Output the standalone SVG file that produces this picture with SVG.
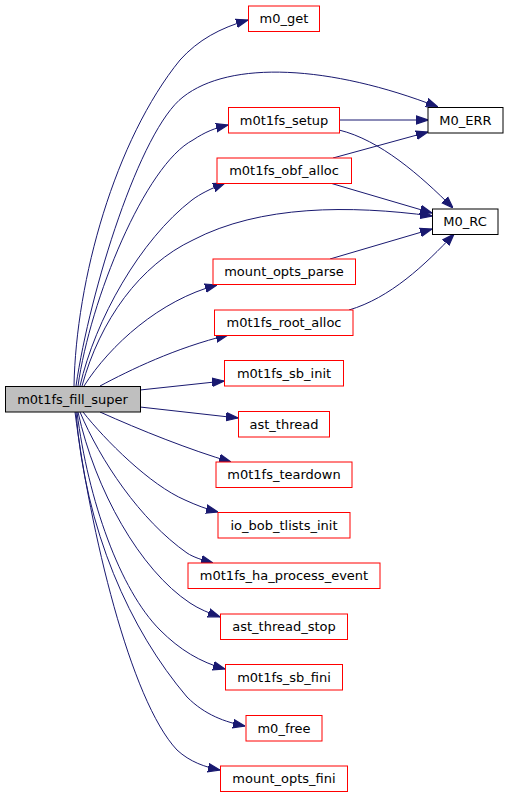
<svg xmlns="http://www.w3.org/2000/svg" width="508" height="797" viewBox="0 0 508 797">
<style>
.n rect{fill:#ffffff;stroke:#ff0000;stroke-width:1}
.n.b rect{stroke:#000000}
.n.root rect{fill:#bfbfbf;stroke:#000000}
.n text{font-family:"DejaVu Sans",sans-serif;font-size:13px;text-anchor:middle;fill:#000000}
#edges path{fill:none;stroke:#191970;stroke-width:1;marker-end:url(#ah)}
</style>
<defs>
<marker id="ah" markerUnits="userSpaceOnUse" markerWidth="12" markerHeight="10" viewBox="0 -4 10 8" refX="10" refY="0" orient="auto">
<path d="M0,-3.5 L10,0 L0,3.5 z" fill="#191970" stroke="#191970" stroke-width="1"/>
</marker>
</defs>
<rect width="508" height="797" fill="#ffffff"/>
<g id="edges">
<path d="M74,386 C76,280 115,140 180,60 C198,40 220,28 248,20"/>
<path d="M76,386 C90,290 140,130 183,97 C230,60 330,65 438,107"/>
<path d="M78,386 C90,300 145,165 193,140 C205,132 215,128 228,125"/>
<path d="M80,386 C95,320 140,240 192,200 C200,194 210,189 225,183"/>
<path d="M82,386 C100,320 140,265 193,240 C260,205 350,205 432,216"/>
<path d="M84,386 C110,345 160,300 217,285"/>
<path d="M100,386 C130,370 175,348 228,335"/>
<path d="M140,390 L224,381"/>
<path d="M140,407 L238,418"/>
<path d="M100,412 C140,430 190,450 231,462"/>
<path d="M83,412 C105,440 150,485 185,500 C196,505 206,509 218,512"/>
<path d="M80,412 C100,460 140,520 187,553 C193,557 202,560 213,563"/>
<path d="M78,412 C95,490 140,570 190,603 C199,609 209,613 220,617"/>
<path d="M77,412 C88,500 120,590 160,630 C180,650 200,662 225,669"/>
<path d="M76,412 C85,530 130,630 187,697 C205,715 225,722 245,726"/>
<path d="M75,412 C90,530 130,700 177,750 C190,762 205,767 220,770"/>
<path d="M339,120 L428,120"/>
<path d="M339,130 C380,140 420,175 453,208"/>
<path d="M333,158 L428,132"/>
<path d="M330,183 L432,213"/>
<path d="M330,259 L432,229"/>
<path d="M349,310 C390,298 425,265 454,234"/>
</g>
<g id="n_m0t1fs_fill_super" class="n root"><rect x="5.5" y="386.5" width="135" height="25.5"/><text x="72.5" y="403.5">m0t1fs_fill_super</text></g>
<g id="n_m0_get" class="n"><rect x="248.5" y="6" width="71" height="25.5"/><text x="284" y="23">m0_get</text></g>
<g id="n_M0_ERR" class="n b"><rect x="428" y="107.5" width="75" height="25.5"/><text x="465.5" y="124.5">M0_ERR</text></g>
<g id="n_m0t1fs_setup" class="n"><rect x="228.5" y="107.5" width="111" height="25.5"/><text x="284" y="124.5">m0t1fs_setup</text></g>
<g id="n_m0t1fs_obf_alloc" class="n"><rect x="217" y="158" width="134.5" height="25.5"/><text x="284" y="175">m0t1fs_obf_alloc</text></g>
<g id="n_M0_RC" class="n b"><rect x="432.5" y="209" width="65.5" height="25.5"/><text x="465" y="226">M0_RC</text></g>
<g id="n_mount_opts_parse" class="n"><rect x="213" y="259" width="142.5" height="25.5"/><text x="284" y="276">mount_opts_parse</text></g>
<g id="n_m0t1fs_root_alloc" class="n"><rect x="214.5" y="310" width="138.5" height="25.5"/><text x="284" y="327">m0t1fs_root_alloc</text></g>
<g id="n_m0t1fs_sb_init" class="n"><rect x="224.5" y="360.5" width="119" height="25.5"/><text x="284" y="377.5">m0t1fs_sb_init</text></g>
<g id="n_ast_thread" class="n"><rect x="238.5" y="411.5" width="91" height="25.5"/><text x="284" y="428.5">ast_thread</text></g>
<g id="n_m0t1fs_teardown" class="n"><rect x="216" y="462" width="136" height="25.5"/><text x="284" y="479">m0t1fs_teardown</text></g>
<g id="n_io_bob_tlists_init" class="n"><rect x="218" y="512.5" width="132" height="25.5"/><text x="284" y="529.5">io_bob_tlists_init</text></g>
<g id="n_m0t1fs_ha_process_event" class="n"><rect x="188" y="563" width="192" height="25.5"/><text x="284" y="580">m0t1fs_ha_process_event</text></g>
<g id="n_ast_thread_stop" class="n"><rect x="220.5" y="614" width="127" height="25.5"/><text x="284" y="631">ast_thread_stop</text></g>
<g id="n_m0t1fs_sb_fini" class="n"><rect x="225.5" y="664.5" width="117" height="25.5"/><text x="284" y="681.5">m0t1fs_sb_fini</text></g>
<g id="n_m0_free" class="n"><rect x="246" y="715.5" width="76" height="25.5"/><text x="284" y="732.5">m0_free</text></g>
<g id="n_mount_opts_fini" class="n"><rect x="220.5" y="766" width="127" height="25.5"/><text x="284" y="783">mount_opts_fini</text></g>
</svg>
